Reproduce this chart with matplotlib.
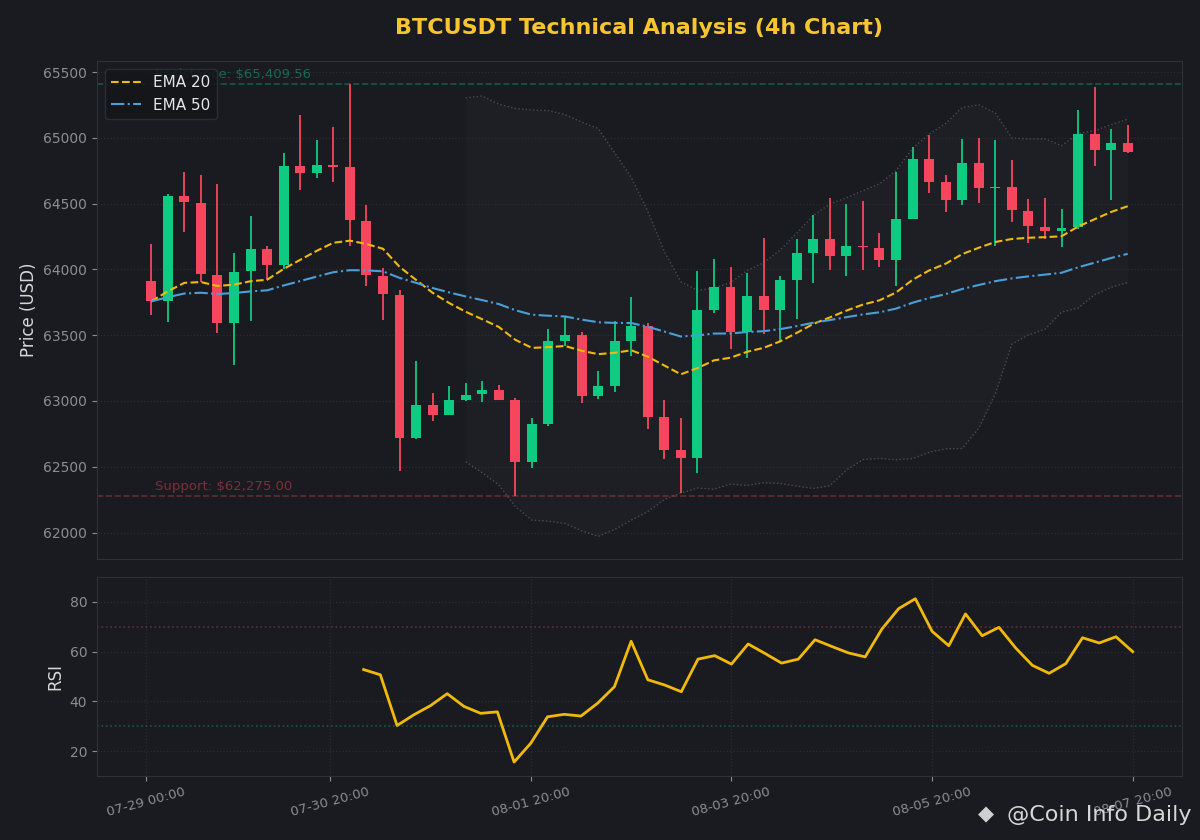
import numpy as np
import pandas as pd
import matplotlib
matplotlib.use("Agg")
import matplotlib.pyplot as plt

# 4h candles, 07-29 00:00 -> 08-07 20:00
opens = [63914, 63757, 64559, 64504, 63960, 63591, 63985, 64155, 64031, 64784,
         64729, 64792, 64779, 64370, 63952, 63808, 62718, 62973, 62893, 63004,
         63052, 63080, 63004, 62536, 62822, 63459, 63505, 63037, 63113, 63459,
         63573, 62875, 62625, 62566, 63694, 63869, 63522, 63800, 63689, 63922,
         64127, 64233, 64104, 64180, 64165, 64074, 64385, 64840, 64665, 64531,
         64810, 64620, 64627, 64445, 64324, 64289, 64319, 65030, 64911, 64961]
highs = [64195, 64574, 64741, 64719, 64648, 64124, 64407, 64177, 64885, 65174,
         64984, 65083, 65409.56, 64491, 64013, 63843, 63300, 63064, 63110, 63140,
         63148, 63125, 63024, 62867, 63550, 63636, 63527, 63231, 63611, 63793,
         63596, 63004, 62867, 63990, 64081, 64020, 63970, 64241, 63952, 64233,
         64415, 64544, 64496, 64521, 64278, 64741, 64931, 65025, 64719, 64992,
         64999, 64984, 64832, 64536, 64544, 64461, 65212, 65386, 65068, 65098]
lows = [63656, 63598, 64281, 63902, 63515, 63274, 63606, 63919, 64003, 64607,
        64691, 64668, 64175, 63876, 63613, 62468, 62710, 62847, 62893, 62999,
        62991, 63004, 62275, 62493, 62809, 63414, 62984, 63014, 63067, 63345,
        62786, 62559, 62301, 62452, 63666, 63393, 63325, 63507, 63459, 63621,
        63894, 63998, 63952, 63998, 64020, 63876, 64385, 64577, 64440, 64493,
        64501, 64175, 64364, 64198, 64228, 64167, 64304, 64789, 64524, 64885]
closes = [63757, 64559, 64509, 63962, 63591, 63980, 64155, 64031, 64784, 64729,
          64792, 64782, 64372, 63955, 63811, 62718, 62973, 62893, 63004, 63049,
          63080, 63004, 62536, 62822, 63459, 63505, 63037, 63110, 63459, 63573,
          62877, 62630, 62566, 63694, 63869, 63522, 63800, 63689, 63922, 64127,
          64233, 64104, 64180, 64167, 64074, 64385, 64840, 64668, 64531, 64810,
          64622, 64625, 64448, 64327, 64289, 64314, 65030, 64911, 64961, 64896]

# RSI values as drawn (first 13 periods have no value)
rsi_values = [np.nan] * 13 + [
    52.8, 50.7, 30.3, 34.6, 38.3, 43.1, 38.0, 35.2, 35.8, 15.6,
    23.2, 33.8, 34.8, 34.1, 39.3, 45.9, 64.2, 48.7, 46.6, 43.9,
    57.0, 58.4, 55.0, 63.1, 59.3, 55.4, 57.0, 64.8, 62.1, 59.5,
    57.9, 69.1, 77.3, 81.3, 68.2, 62.4, 75.2, 66.4, 69.8, 61.5,
    54.5, 51.3, 55.2, 65.6, 63.5, 66.0, 60.0]

support = 62275.00
resistance = 65409.56

dates = pd.date_range("2024-07-29 00:00", periods=len(closes), freq="4h")

BG = "#1a1b20"
GRID = "#2a2d33"
SPINE = "#2e3138"
TICK = "#8a8d93"
GREEN = "#0ecb81"
RED = "#f6465d"
GOLD = "#f0b90b"
BLUE = "#4a9fd8"

df = pd.DataFrame({"open": opens, "high": highs, "low": lows, "close": closes}, index=dates)
df["ema20"] = df["close"].ewm(span=20, adjust=False).mean()
df["ema50"] = df["close"].ewm(span=50, adjust=False).mean()
mid = df["close"].rolling(20).mean()
sd = df["close"].rolling(20).std()
df["bb_up"] = mid + 2 * sd
df["bb_lo"] = mid - 2 * sd

x = np.arange(len(df))
n = len(x) - 1

fig = plt.figure(figsize=(12, 8.4), dpi=100, facecolor=BG)
ax1 = fig.add_axes([0.0808, 0.3345, 0.9042, 0.5925])
ax2 = fig.add_axes([0.0808, 0.0762, 0.9042, 0.2368])

for ax in (ax1, ax2):
    ax.set_facecolor(BG)
    for s in ax.spines.values():
        s.set_color(SPINE)
    ax.tick_params(colors=TICK, labelsize=10)

# price pane
up = df["close"] >= df["open"]
colors = np.where(up, GREEN, RED)
ax1.vlines(x, df["low"], df["high"], color=colors, linewidth=1.3, zorder=3)
body_bottom = np.minimum(df["open"], df["close"])
body_h = np.abs(df["close"] - df["open"])
body_h = np.maximum(body_h, 6)
ax1.bar(x, body_h, bottom=body_bottom, width=0.6, color=colors, zorder=4)

ax1.plot(x, df["bb_up"], color="#4a4c52", linestyle=":", linewidth=1)
ax1.plot(x, df["bb_lo"], color="#4a4c52", linestyle=":", linewidth=1)
ax1.fill_between(x, df["bb_lo"], df["bb_up"], color="white", alpha=0.018, linewidth=0)

ax1.plot(x, df["ema20"], color=GOLD, linestyle="--", linewidth=1.5, label="EMA 20", zorder=5)
ax1.plot(x, df["ema50"], color=BLUE, linestyle="-.", linewidth=1.5, label="EMA 50", zorder=5)

ax1.axhline(resistance, color="#0ecb81", alpha=0.35, linestyle="--", linewidth=1.2)
ax1.axhline(support, color="#f6465d", alpha=0.35, linestyle="--", linewidth=1.2)
ax1.text(0.2, resistance + 25, f"Resistance: ${resistance:,.2f}", color="#0ecb81",
         alpha=0.45, fontsize=9.5, va="bottom")
ax1.text(0.2, support + 25, f"Support: ${support:,.2f}", color="#f6465d",
         alpha=0.45, fontsize=9.5, va="bottom")

ax1.grid(True, axis="y", color=GRID, linestyle=":", linewidth=0.9)
ax1.set_xticks([])
ax1.set_ylabel("Price (USD)", color="#d8d8d8", fontsize=12)
ax1.set_title("BTCUSDT Technical Analysis (4h Chart)", color="#f7c531",
              fontsize=16, fontweight="bold", pad=20)
leg = ax1.legend(loc="upper left", fontsize=11, facecolor="#15161a",
                 edgecolor=SPINE, framealpha=0.85)
for t in leg.get_texts():
    t.set_color("#e6e6e6")

# RSI pane
ax2.plot(x, rsi_values, color=GOLD, linewidth=2)
ax2.axhline(70, color="#f6465d", alpha=0.35, linestyle=":", linewidth=1.2)
ax2.axhline(30, color="#0ecb81", alpha=0.35, linestyle=":", linewidth=1.2)
ax2.set_ylim(10, 90)
ax2.set_yticks([20, 40, 60, 80])
ax2.set_ylabel("RSI", color="#d8d8d8", fontsize=12)
ax2.grid(True, color=GRID, linestyle=":", linewidth=0.9)

tick_idx = np.linspace(0, n, 6).astype(int)
ax2.set_xticks(tick_idx)
ax2.set_xticklabels([dates[i].strftime("%m-%d %H:%M") for i in tick_idx],
                    rotation=15, color=TICK, fontsize=9.5)
ax2.set_xlim(-0.05 * n, 1.05 * n)

# watermark
fig.text(0.822, 0.030, "◆", color="#cfcfcf", fontsize=15, ha="center", va="center")
fig.text(0.993, 0.030, "@Coin Info Daily", color="#d6d6d6", fontsize=16,
         ha="right", va="center")

fig.savefig("out.png", dpi=100, facecolor=BG)
